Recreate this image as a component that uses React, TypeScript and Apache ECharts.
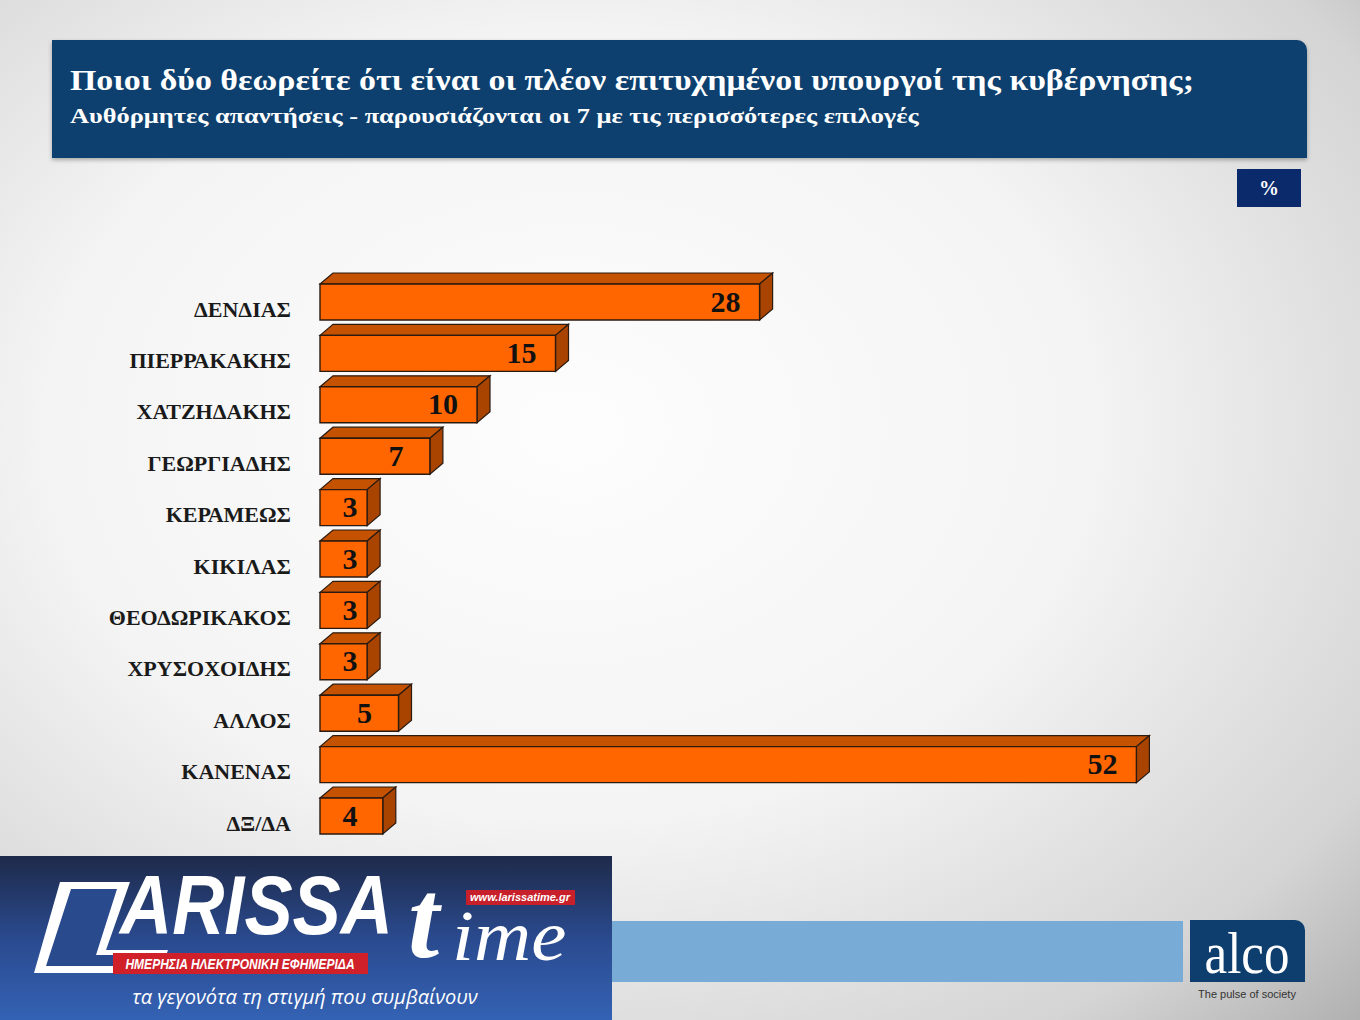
import React, { useEffect, useRef } from "react";
import * as echarts from "echarts";

const categories = [
  "ΔΕΝΔΙΑΣ",
  "ΠΙΕΡΡΑΚΑΚΗΣ",
  "ΧΑΤΖΗΔΑΚΗΣ",
  "ΓΕΩΡΓΙΑΔΗΣ",
  "ΚΕΡΑΜΕΩΣ",
  "ΚΙΚΙΛΑΣ",
  "ΘΕΟΔΩΡΙΚΑΚΟΣ",
  "ΧΡΥΣΟΧΟΙΔΗΣ",
  "ΑΛΛΟΣ",
  "ΚΑΝΕΝΑΣ",
  "ΔΞ/ΔΑ",
];
const values = [28, 15, 10, 7, 3, 3, 3, 3, 5, 52, 4];

const titleText = "Ποιοι δύο θεωρείτε ότι είναι οι πλέον επιτυχημένοι υπουργοί της κυβέρνησης;";
const subtitleText = "Αυθόρμητες απαντήσεις - παρουσιάζονται οι 7 με τις περισσότερες επιλογές";
const unitText = "%";

const SERIF = '"Liberation Serif", "Times New Roman", serif';
const SANS = '"Liberation Sans", Arial, sans-serif';

export default function App() {
  const ref = useRef<HTMLDivElement>(null);

  useEffect(() => {
    document.body.style.margin = "0";
    if (!ref.current) return;
    const chart = echarts.init(ref.current, null, { renderer: "svg" });

    const FRONT_H = 36;
    const DX = 13;
    const DY = 11;
    const STROKE = "#2a1a10";

    const option: any = {
      animation: false,
      backgroundColor: {
        type: "radial",
        x: 0.42,
        y: 0.42,
        r: 0.85,
        colorStops: [
          { offset: 0, color: "#fdfdfd" },
          { offset: 0.45, color: "#f4f4f4" },
          { offset: 0.8, color: "#d4d4d4" },
          { offset: 1, color: "#a9a9a9" },
        ],
      },
      grid: { left: 320, width: 942, top: 283.3, height: 565.4 },
      xAxis: {
        type: "value",
        min: 0,
        max: 60,
        show: false,
      },
      yAxis: {
        type: "category",
        inverse: true,
        data: categories,
        axisLine: { show: false },
        axisTick: { show: false },
        splitLine: { show: false },
        axisLabel: {
          margin: 29,
          fontFamily: SERIF,
          fontWeight: "bold",
          fontSize: 22,
          color: "#1a1a1a",
        },
      },
      series: [
        {
          type: "custom",
          data: values.map((v, i) => [v, i]),
          encode: { x: 0, y: 1 },
          renderItem: (params: any, api: any) => {
            const v = api.value(0);
            const idx = api.value(1);
            const s = api.coord([0, idx]);
            const e = api.coord([v, idx]);
            const x0 = s[0];
            const x1 = e[0];
            const cy = s[1] - 7;
            const y0 = cy - FRONT_H / 2;
            const y1 = cy + FRONT_H / 2;
            const labelX = Math.max(x1 - 34, x0 + 30);
            return {
              type: "group",
              children: [
                {
                  type: "polygon",
                  shape: { points: [[x0, y0], [x0 + DX, y0 - DY], [x1 + DX, y0 - DY], [x1, y0]] },
                  style: { fill: "#c45200", stroke: STROKE, lineWidth: 1.2 },
                },
                {
                  type: "polygon",
                  shape: { points: [[x1, y0], [x1 + DX, y0 - DY], [x1 + DX, y1 - DY], [x1, y1]] },
                  style: { fill: "#a84400", stroke: STROKE, lineWidth: 1.2 },
                },
                {
                  type: "rect",
                  shape: { x: x0, y: y0, width: x1 - x0, height: FRONT_H },
                  style: { fill: "#ff6600", stroke: STROKE, lineWidth: 1.4 },
                },
                {
                  type: "text",
                  style: {
                    text: String(v),
                    x: labelX,
                    y: cy - 1,
                    align: "center",
                    verticalAlign: "middle",
                    font: `bold 30px ${SERIF}`,
                    fill: "#111111",
                  },
                },
              ],
            };
          },
        },
      ],
      graphic: [
        // title box
        {
          type: "rect",
          shape: { x: 52, y: 40, width: 1255, height: 118, r: [0, 10, 0, 0] },
          style: { fill: "#0c3f6e", shadowBlur: 4, shadowColor: "rgba(0,0,0,0.3)", shadowOffsetY: 2 },
        },
        {
          type: "text",
          x: 70,
          y: 80,
          scaleX: 1.13,
          style: {
            text: titleText,
            x: 0,
            y: 0,
            verticalAlign: "middle",
            font: `bold 30px ${SERIF}`,
            fill: "#ffffff",
          },
        },
        {
          type: "text",
          x: 70,
          y: 115,
          scaleX: 1.2,
          style: {
            text: subtitleText,
            x: 0,
            y: 0,
            verticalAlign: "middle",
            font: `bold 22px ${SERIF}`,
            fill: "#ffffff",
          },
        },
        // percent box
        {
          type: "rect",
          shape: { x: 1237, y: 169, width: 64, height: 38 },
          style: { fill: "#0b2a6b" },
        },
        {
          type: "text",
          style: {
            text: unitText,
            x: 1269,
            y: 188,
            align: "center",
            verticalAlign: "middle",
            font: `bold 20px ${SERIF}`,
            fill: "#ffffff",
          },
        },
        // bottom band
        {
          type: "rect",
          shape: { x: 600, y: 921, width: 583, height: 61 },
          style: { fill: "#78acd6" },
        },
        {
          type: "rect",
          shape: { x: 1190, y: 920, width: 115, height: 62, r: [0, 10, 0, 0] },
          style: { fill: "#0d3e6e" },
        },
        {
          type: "text",
          x: 1247,
          y: 953,
          scaleX: 0.85,
          style: {
            text: "alco",
            x: 0,
            y: 0,
            align: "center",
            verticalAlign: "middle",
            font: `60px ${SERIF}`,
            fill: "#ffffff",
          },
        },
        {
          type: "text",
          style: {
            text: "The pulse of society",
            x: 1247,
            y: 994,
            align: "center",
            verticalAlign: "middle",
            font: `11px ${SANS}`,
            fill: "#333333",
          },
        },
        // Larissa time logo
        {
          type: "rect",
          shape: { x: 0, y: 856, width: 612, height: 164 },
          style: {
            fill: {
              type: "linear",
              x: 0,
              y: 0,
              x2: 0,
              y2: 1,
              colorStops: [
                { offset: 0, color: "#1e2a4a" },
                { offset: 0.5, color: "#2a4a8e" },
                { offset: 1, color: "#3462b4" },
              ],
            },
          },
        },
        {
          type: "polygon",
          shape: {
            points: [
              [60, 882], [130, 882], [106, 950], [168, 950], [160, 973], [34, 973],
            ],
          },
          style: { fill: "#ffffff" },
        },
        {
          type: "polygon",
          shape: {
            points: [
              [71, 889], [117, 889], [96, 955], [158, 955], [154, 966], [46, 966],
            ],
          },
          style: { fill: "#2a4a8e" },
        },
        {
          type: "text",
          x: 120,
          y: 947,
          scaleX: 0.86,
          style: {
            text: "ARISSA",
            x: 0,
            y: 0,
            verticalAlign: "bottom",
            font: `italic bold 84px ${SANS}`,
            fill: "#ffffff",
          },
        },
        {
          type: "text",
          style: {
            text: "t",
            x: 408,
            y: 975,
            verticalAlign: "bottom",
            font: `italic bold 112px ${SERIF}`,
            fill: "#ffffff",
          },
        },
        {
          type: "text",
          x: 452,
          y: 972,
          scaleX: 1.1,
          style: {
            text: "ime",
            x: 0,
            y: 0,
            verticalAlign: "bottom",
            font: `italic 72px ${SERIF}`,
            fill: "#ffffff",
          },
        },
        {
          type: "rect",
          shape: { x: 466, y: 890, width: 109, height: 15 },
          style: { fill: "#c8202a" },
        },
        {
          type: "text",
          style: {
            text: "www.larissatime.gr",
            x: 520,
            y: 897,
            align: "center",
            verticalAlign: "middle",
            font: `italic bold 11px ${SANS}`,
            fill: "#ffffff",
          },
        },
        {
          type: "rect",
          shape: { x: 113, y: 953, width: 255, height: 21 },
          style: { fill: "#d0202a" },
        },
        {
          type: "text",
          x: 240,
          y: 964,
          scaleX: 0.86,
          style: {
            text: "ΗΜΕΡΗΣΙΑ ΗΛΕΚΤΡΟΝΙΚΗ ΕΦΗΜΕΡΙΔΑ",
            x: 0,
            y: 0,
            align: "center",
            verticalAlign: "middle",
            font: `italic bold 14px ${SANS}`,
            fill: "#ffffff",
          },
        },
        {
          type: "text",
          style: {
            text: "τα γεγονότα τη στιγμή που συμβαίνουν",
            x: 305,
            y: 996,
            align: "center",
            verticalAlign: "middle",
            font: `italic 20px "Open Sans", ${SANS}`,
            fill: "#ffffff",
          },
        },
      ],
    };

    chart.setOption(option);
    return () => chart.dispose();
  }, []);

  return <div ref={ref} style={{ width: 1360, height: 1020 }} />;
}
